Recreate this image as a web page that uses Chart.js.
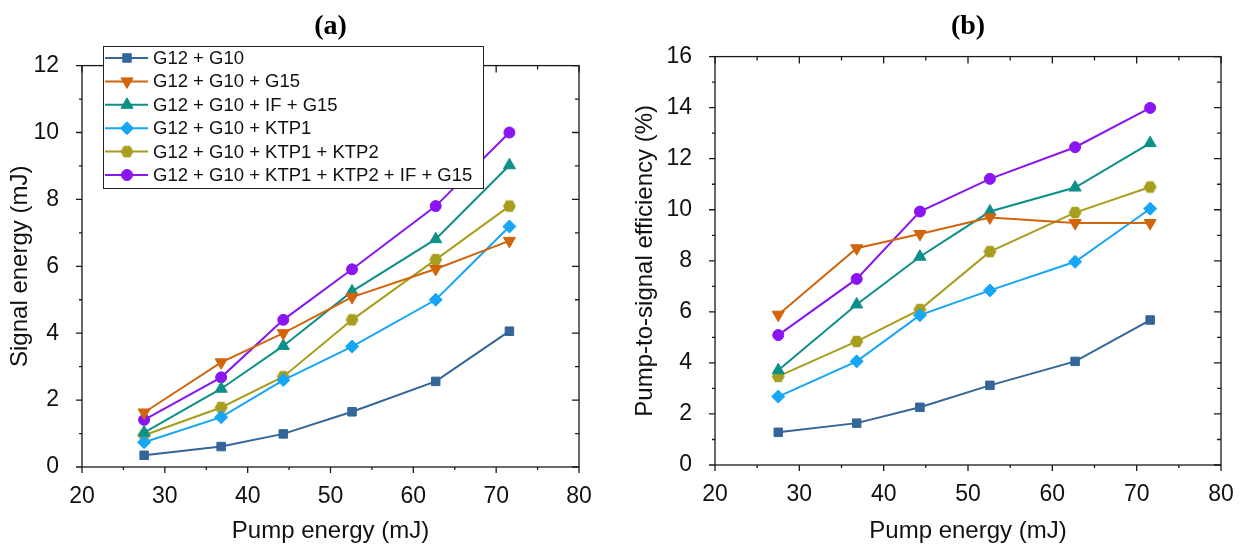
<!DOCTYPE html>
<html>
<head>
<meta charset="utf-8">
<script src="https://cdn.jsdelivr.net/npm/chart.js@4.4.1/dist/chart.umd.min.js"></script>
<style>
  body { margin: 0; background: #fff; }
  #wrap { position: relative; width: 1245px; height: 550px; }
  #left { position: absolute; left: 0; top: 0; }
  #right { position: absolute; left: 620px; top: 0; }
</style>
</head>
<body>
<div id="wrap">
  <canvas id="left" width="620" height="550"></canvas>
  <canvas id="right" width="625" height="550"></canvas>
</div>
<script>
// pump energy (mJ), shared x values
const pumpEnergy = [27.5, 36.8, 44.3, 52.6, 62.7, 71.6];

const seriesNames = [
  'G12 + G10',
  'G12 + G10 + G15',
  'G12 + G10 + IF + G15',
  'G12 + G10 + KTP1',
  'G12 + G10 + KTP1 + KTP2',
  'G12 + G10 + KTP1 + KTP2 + IF + G15'
];
const seriesColors = ['#336699', '#D2650C', '#0E8F88', '#16A6F5', '#A89E1E', '#8A14F2'];

// (a) signal energy (mJ)
const sigG10  = [0.35, 0.61, 0.99, 1.65, 2.56, 4.06];
const sigG15  = [1.63, 3.13, 4.00, 5.08, 5.92, 6.76];
const sigIF   = [1.03, 2.34, 3.62, 5.25, 6.81, 9.02];
const sigKTP1 = [0.74, 1.49, 2.60, 3.60, 5.00, 7.19];
const sigKTP2 = [0.95, 1.78, 2.70, 4.40, 6.20, 7.80];
const sigAll  = [1.41, 2.68, 4.40, 5.91, 7.80, 10.00];

// (b) pump-to-signal efficiency (%)
const effG10  = [1.28, 1.64, 2.26, 3.12, 4.06, 5.68];
const effG15  = [5.89, 8.49, 9.05, 9.70, 9.48, 9.48];
const effIF   = [3.71, 6.29, 8.16, 9.93, 10.87, 12.61];
const effKTP1 = [2.68, 4.06, 5.87, 6.84, 7.96, 10.04];
const effKTP2 = [3.47, 4.84, 6.09, 8.36, 9.89, 10.89];
const effAll  = [5.09, 7.29, 9.93, 11.21, 12.45, 13.99];

const FONT = "'Liberation Sans', Arial, sans-serif";

// hexagon marker for the KTP1 + KTP2 series
function hexMarker(color, r) {
  const c = document.createElement('canvas');
  const s = Math.ceil(r * 2 + 2);
  c.width = s; c.height = s;
  const g = c.getContext('2d');
  g.fillStyle = color;
  g.beginPath();
  for (let k = 0; k < 6; k++) {
    const a = Math.PI / 3 * k;
    g.lineTo(s / 2 + r * Math.cos(a), s / 2 + r * Math.sin(a));
  }
  g.closePath();
  g.fill();
  return c;
}

const markers = [
  { style: 'rect', radius: 6, rot: 0 },
  { style: 'triangle', radius: 7, rot: 180 },
  { style: 'triangle', radius: 7, rot: 0 },
  { style: 'rectRot', radius: 6.5, rot: 0 },
  { style: hexMarker(seriesColors[4], 6.5), radius: 6.5, rot: 0 },
  { style: 'circle', radius: 5.5, rot: 0 }
];

function makeDatasets(list) {
  return list.map((vals, i) => ({
    label: seriesNames[i],
    data: vals.map((v, j) => ({ x: pumpEnergy[j], y: v })),
    showLine: true,
    borderColor: seriesColors[i],
    backgroundColor: seriesColors[i],
    borderWidth: 2,
    pointStyle: markers[i].style,
    pointRadius: markers[i].radius,
    pointRotation: markers[i].rot,
    pointBorderWidth: 1,
    pointBorderColor: seriesColors[i],
    pointBackgroundColor: seriesColors[i]
  }));
}

// box + ticks the Origin way: out on left/bottom, in on top/right, with minor ticks
const framePlugin = {
  id: 'frame',
  afterDatasetsDraw(chart) {
    const { ctx, chartArea: a, scales: { x, y } } = chart;
    ctx.save();
    ctx.strokeStyle = '#1a1a1a';
    ctx.lineWidth = 1.3;
    ctx.strokeRect(a.left, a.top, a.right - a.left, a.bottom - a.top);
    ctx.beginPath();
    for (let v = x.min; v <= x.max + 0.001; v += 5) {
      const px = x.getPixelForValue(v);
      const major = Math.abs(v % 10) < 0.001;
      ctx.moveTo(px, a.bottom); ctx.lineTo(px, a.bottom + (major ? 6 : 3));
      ctx.moveTo(px, a.top); ctx.lineTo(px, a.top + (major ? 7 : 4));
    }
    for (let v = y.min; v <= y.max + 0.001; v += 1) {
      const py = y.getPixelForValue(v);
      const major = v % 2 === 0;
      ctx.moveTo(a.left, py); ctx.lineTo(a.left - (major ? 6 : 3), py);
      ctx.moveTo(a.right, py); ctx.lineTo(a.right - (major ? 7 : 4), py);
    }
    ctx.stroke();
    ctx.restore();
  }
};

const legendBox = {
  id: 'legendBox',
  afterDraw(chart) {
    const ctx = chart.ctx;
    const left = 103, top = 46, right = 483, bottom = 188;
    ctx.save();
    ctx.fillStyle = '#fff';
    ctx.fillRect(left, top, right - left, bottom - top);
    ctx.strokeStyle = '#222';
    ctx.lineWidth = 1;
    ctx.strokeRect(left + 0.5, top + 0.5, right - left, bottom - top);
    ctx.font = '18.5px ' + FONT;
    ctx.textBaseline = 'middle';
    chart.data.datasets.forEach((ds, i) => {
      const yy = 58 + i * 23.4;
      ctx.strokeStyle = ds.borderColor;
      ctx.fillStyle = ds.borderColor;
      ctx.lineWidth = 2;
      ctx.beginPath();
      ctx.moveTo(105, yy); ctx.lineTo(148, yy);
      ctx.stroke();
      ctx.lineWidth = 1;
      Chart.helpers.drawPoint(ctx, {
        pointStyle: ds.pointStyle, radius: ds.pointRadius,
        rotation: ds.pointRotation, borderWidth: 1
      }, 127, yy);
      ctx.fillStyle = '#111';
      ctx.fillText(ds.label, 153, yy + 1);
    });
    ctx.restore();
  }
};

function makeChart(id, title, datasets, yMax, yTitle, opt) {
  return new Chart(document.getElementById(id), {
    type: 'scatter',
    data: { datasets: datasets },
    options: {
      responsive: false,
      animation: false,
      layout: { padding: { left: 0, right: opt.padRight, top: 0, bottom: 0 } },
      plugins: {
        legend: { display: false },
        tooltip: { enabled: false },
        title: {
          display: true,
          text: title,
          fullSize: false,
          color: '#000',
          font: { family: "'Liberation Serif', 'Times New Roman', serif", size: 28, weight: 'bold' },
          padding: { top: 10, bottom: opt.titleGap }
        }
      },
      scales: {
        x: {
          type: 'linear',
          min: 20, max: 80,
          grid: { display: false },
          border: { display: false },
          ticks: { stepSize: 10, padding: 8, color: '#111', font: { family: FONT, size: 23 } },
          title: { display: true, text: 'Pump energy (mJ)', color: '#111', font: { family: FONT, size: 24 }, padding: { top: 2 } },
          afterFit: s => { s.height = opt.xHeight; }
        },
        y: {
          min: 0, max: yMax,
          grid: { display: false },
          border: { display: false },
          ticks: { stepSize: 2, padding: 15, color: '#111', font: { family: FONT, size: 23 } },
          title: { display: true, text: yTitle, color: '#111', font: { family: FONT, size: 24 }, padding: { top: opt.yTitlePad } },
          afterFit: s => { s.width = opt.yWidth; }
        }
      }
    },
    plugins: opt.legend ? [framePlugin, legendBox] : [framePlugin]
  });
}

makeChart('left', '(a)',
  makeDatasets([sigG10, sigG15, sigIF, sigKTP1, sigKTP2, sigAll]),
  12, 'Signal energy (mJ)',
  { padRight: 41, titleGap: 22, xHeight: 83, yWidth: 82, yTitlePad: 6, legend: true });

makeChart('right', '(b)',
  makeDatasets([effG10, effG15, effIF, effKTP1, effKTP2, effAll]),
  16, 'Pump-to-signal efficiency (%)',
  { padRight: 24, titleGap: 13, xHeight: 85, yWidth: 95, yTitlePad: 11, legend: false });
</script>
</body>
</html>
